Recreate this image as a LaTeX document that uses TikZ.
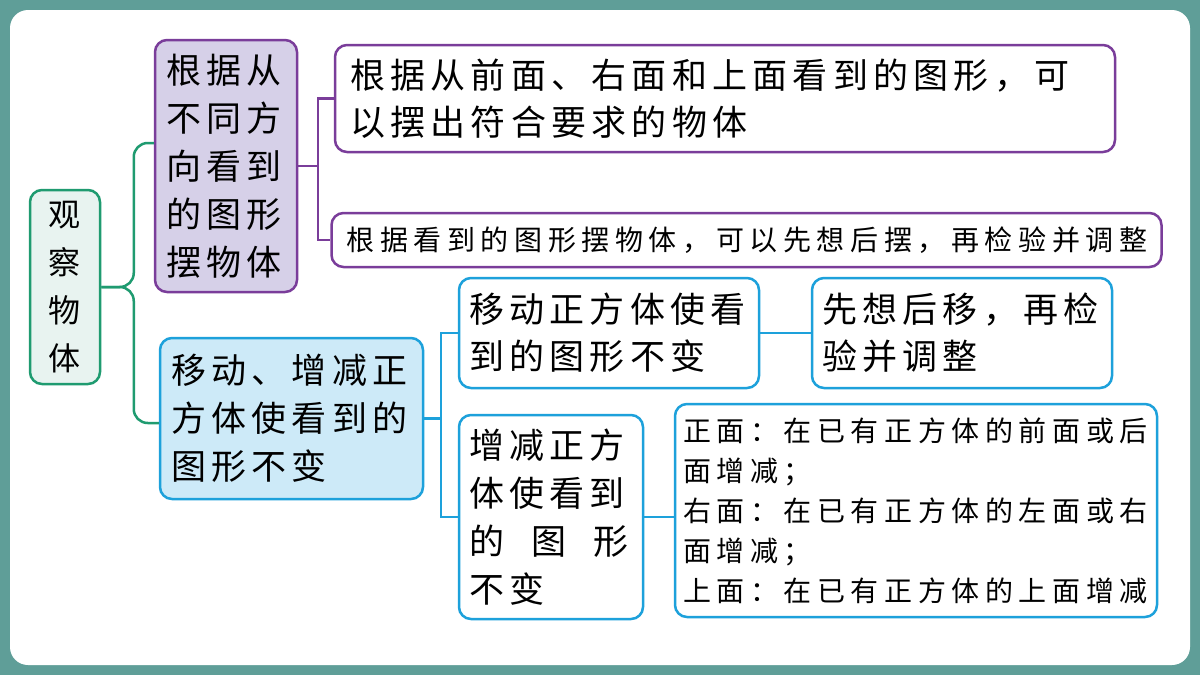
\documentclass[tikz,border=0pt]{standalone}
\usepackage{fontspec}
\newfontfamily\cjk[LetterSpace=15]{Noto Sans CJK SC}
\newfontfamily\cjksmall[LetterSpace=20]{Noto Sans CJK SC}
\definecolor{frame}{HTML}{5F9E98}
\definecolor{rootline}{HTML}{1F9B70}
\definecolor{rootfill}{HTML}{E8F3F0}
\definecolor{purpline}{HTML}{7A3D9A}
\definecolor{purpfill}{HTML}{D6D0E8}
\definecolor{blueline}{HTML}{1DA1DB}
\definecolor{bluefill}{HTML}{CDEAF8}
\tikzset{
  box/.style={draw, line width=2.5pt, rounded corners=12pt, inner ysep=0pt, inner xsep=11pt},
  rootbox/.style={box, draw=rootline, fill=rootfill, align=center,
    font=\cjk\fontsize{32}{48}\selectfont},
  purpmain/.style={box, draw=purpline, fill=purpfill, align=left,
    font=\cjk\fontsize{35}{48}\selectfont},
  purpleaf/.style={box, draw=purpline, fill=white, align=left, inner xsep=15pt},
  bluemain/.style={box, draw=blueline, fill=bluefill, align=left,
    font=\cjk\fontsize{35}{48}\selectfont},
  blueleaf/.style={box, draw=blueline, fill=white, align=left, inner xsep=10pt},
  gline/.style={draw=rootline, line width=2.5pt, rounded corners=14pt},
  pline/.style={draw=purpline, line width=2.5pt},
  bline/.style={draw=blueline, line width=2.5pt}
}
\begin{document}
\begin{tikzpicture}[x=1pt,y=-1pt]
  \useasboundingbox (0,0) rectangle (1200,675);
  \fill[frame] (0,0) rectangle (1200,675);
  \fill[white, rounded corners=18pt] (10,10) rectangle (1190,665);

  % root
  \node[rootbox, minimum width=70pt, minimum height=194pt, text width=48pt] (root) at (65,287)
    {观\\察\\物\\体};

  % purple branch
  \node[purpmain, minimum width=142pt, minimum height=252pt, text width=120pt] (p0) at (226,166)
    {根据从\\不同方\\向看到\\的图形\\摆物体};
  \node[purpleaf, minimum width=780pt, minimum height=107pt, text width=750pt,
    font=\cjk\fontsize{35}{47}\selectfont] (p1) at (725,98.5)
    {根据从前面、右面和上面看到的图形，可\\以摆出符合要求的物体};
  \node[purpleaf, minimum width=823pt, minimum height=54pt, text width=800pt,
    font=\cjksmall\fontsize{28}{40}\selectfont] (p2) at (746.5,240)
    {根据看到的图形摆物体，可以先想后摆，再检验并调整};

  % blue branch
  \node[bluemain, minimum width=263pt, minimum height=161pt, text width=241pt] (b0) at (291.5,418.5)
    {移动、增减正\\方体使看到的\\图形不变};
  \node[blueleaf, minimum width=300pt, minimum height=110pt, text width=280pt,
    font=\cjk\fontsize{35}{47}\selectfont] (b1) at (609,333)
    {移动正方体使看\\到的图形不变};
  \node[blueleaf, minimum width=300pt, minimum height=110pt, text width=280pt,
    font=\cjk\fontsize{35}{47}\selectfont] (b1a) at (962,333)
    {先想后移，再检\\验并调整};
  \node[blueleaf, minimum width=184pt, minimum height=204pt, text width=164pt,
    font=\cjk\fontsize{35}{48}\selectfont] (b2) at (551,517)
    {增减正方\\体使看到\\\leavevmode\hbox to 160pt{的\hfil 图\hfil 形}\\不变};
  \node[blueleaf, minimum width=482pt, minimum height=213pt, text width=466pt, inner xsep=8pt,
    font=\cjksmall\fontsize{28}{40}\selectfont] (b2a) at (916,510.5)
    {正面：在已有正方体的前面或后\\面增减；\\右面：在已有正方体的左面或右\\面增减；\\上面：在已有正方体的上面增减};

  % connectors
  \draw[gline] (root.east) -| ([xshift=-20pt,yshift=23pt]p0.west) -- ([yshift=23pt]p0.west);
  \draw[gline] (root.east) -| ([xshift=-25pt,yshift=-4.5pt]b0.west) -- ([yshift=-4.5pt]b0.west);

  \coordinate (pj) at (318,166);
  \draw[pline] (p0.east) -- (pj);
  \draw[pline] (p1.west) -| (pj) |- (p2.west);

  \coordinate (bj) at (441,418.5);
  \draw[bline] (b0.east) -- (bj);
  \draw[bline] (b1.west) -| (bj) |- (b2.west);
  \draw[bline] (b1.east) -- (b1a.west);
  \draw[bline] (b2.east) -- (b2.east -| b2a.west);
\end{tikzpicture}
\end{document}
